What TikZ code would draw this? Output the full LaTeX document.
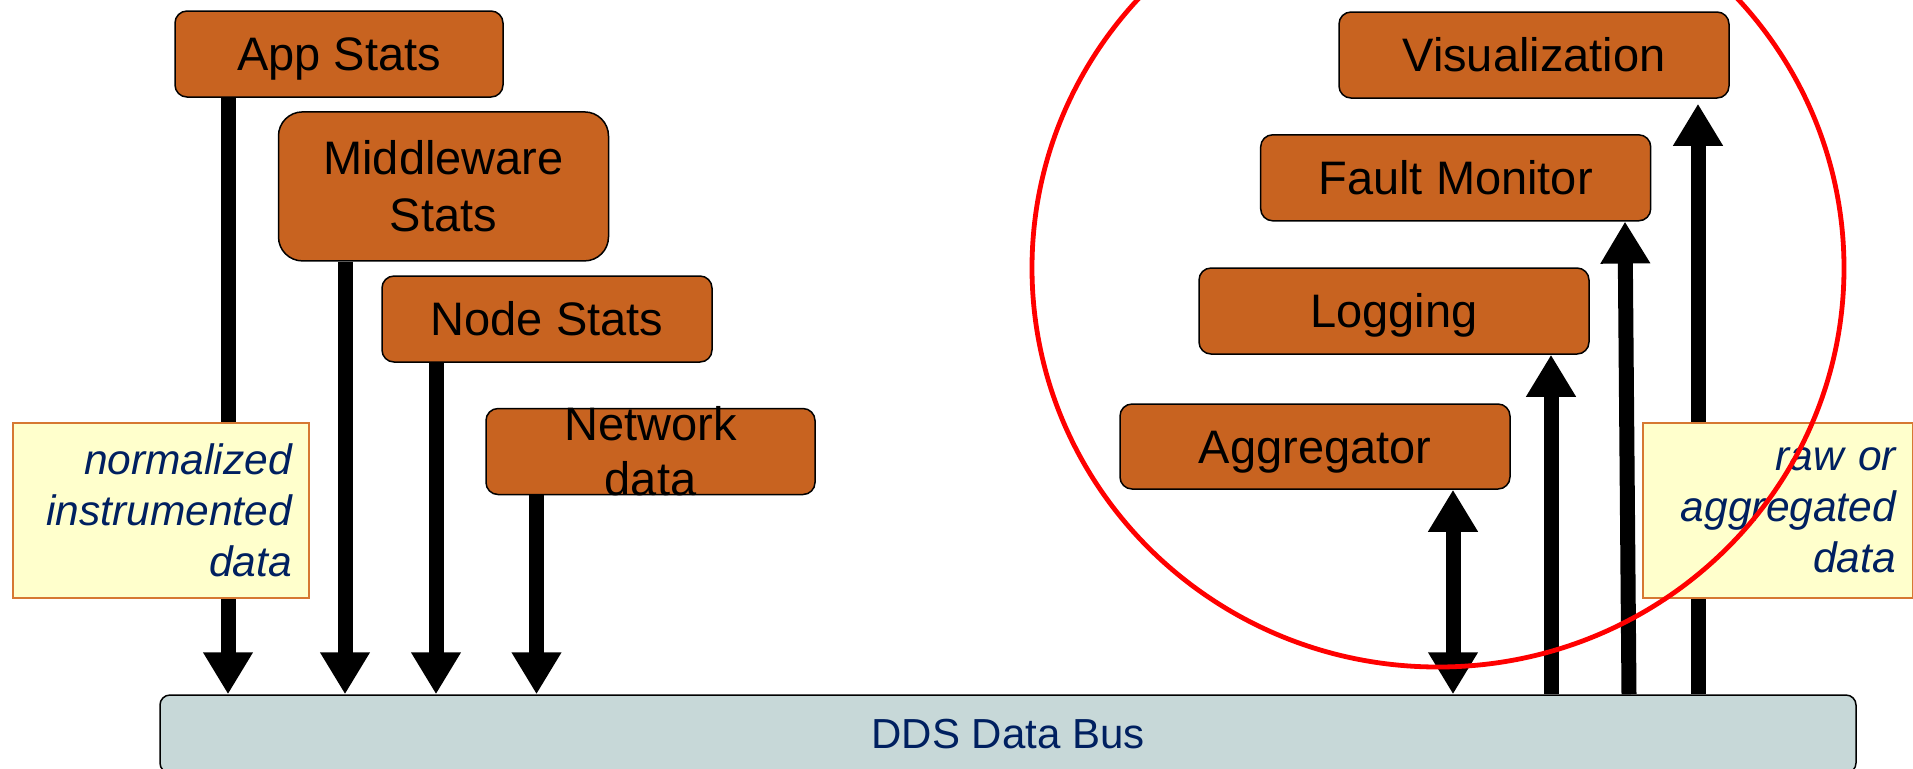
\documentclass[tikz,border=0pt]{standalone}
\usepackage{fontspec}
\setmainfont{Liberation Sans}
\usetikzlibrary{arrows.meta,calc}
\definecolor{boxorange}{RGB}{200,99,32}
\definecolor{busfill}{RGB}{199,216,216}
\definecolor{notefill}{RGB}{255,255,204}
\definecolor{noteborder}{RGB}{214,120,50}
\definecolor{navy}{RGB}{0,32,96}
\begin{document}
\begin{tikzpicture}[x=0.5pt,y=-0.5pt,
  box/.style={draw=black, line width=0.75pt, fill=boxorange, rounded corners=6pt,
    inner sep=0pt, align=center, font=\fontsize{23.5}{28.3}\selectfont,
    text height=20pt, text depth=3.2pt, minimum height=43pt},
  twolines/.style={text height=48.3pt, text depth=3.2pt},
  boxtext/.style={inner sep=0pt, align=center, font=\fontsize{23.5}{27.5}\selectfont,
    text height=47.5pt, text depth=3.2pt},
  note/.style={draw=noteborder, line width=0.9pt, fill=notefill, inner ysep=0pt,
    inner xsep=8.5pt, align=right, text=navy,
    font=\fontsize{21.25}{25.5}\selectfont\itshape, minimum height=87.5pt},
  bus/.style={draw=black, line width=0.75pt, fill=busfill, rounded corners=5pt,
    minimum width=848pt, minimum height=39pt, text=navy, inner sep=0pt,
    text height=17pt, text depth=2.2pt,
    font=\fontsize{21}{25}\selectfont},
  arr/.style={line width=7.5pt, -{Triangle[length=21pt,width=23.5pt]}},
  dblarr/.style={line width=7.5pt, {Triangle[length=21pt,width=23.5pt]}-{Triangle[length=21pt,width=23.5pt]}},
  ring/.style={draw=red, line width=2.4pt}
]
\useasboundingbox (0,0) rectangle (1913,768);

% data bus
\node[bus] (bus) at (1008,734) {DDS Data Bus};

% left boxes
\node[box, minimum width=164pt] (app) at (339,54) {App Stats};
\node[box, twolines, minimum width=165pt, minimum height=74.5pt, rounded corners=12pt] (mid) at (443.5,186.4) {Middleware\\Stats};
\node[box, minimum width=165pt] (nod) at (547,319) {Node Stats};
\node[box, minimum width=164.5pt] (net) at (650.5,451.5) {};
\node[boxtext] (netlabel) at (net.center) {Network\\data};

% right boxes
\node[box, minimum width=195pt] (viz) at (1534,55) {Visualization};
\node[box, minimum width=195pt] (flt) at (1455.7,177.8) {Fault Monitor};
\node[box, minimum width=195pt] (lgg) at (1394,311) {Logging};
\node[box, minimum width=195pt, minimum height=42.5pt] (agg) at (1315,446.5) {Aggregator};

% arrow x positions
\coordinate (xa) at (228,0);
\coordinate (xm) at (345,0);
\coordinate (xn) at (436,0);
\coordinate (xw) at (536.5,0);
\coordinate (xg) at (1453,0);
\coordinate (xl) at (1551,0);
\coordinate (xf1) at (1629,0);
\coordinate (xf2) at (1625,0);
\coordinate (xv) at (1698,0);

\draw[arr] (xa |- app.south) -- (xa |- bus.north);
\draw[arr] (xm |- mid.south) -- (xm |- bus.north);
\draw[arr] (xn |- nod.south) -- (xn |- bus.north);
\draw[arr] (xw |- net.south) -- (xw |- bus.north);
\draw[dblarr] (xg |- bus.north) -- (xg |- agg.south);
\draw[arr] (xl |- bus.north) -- (xl |- lgg.south);
\draw[arr] (xf1 |- bus.north) -- (xf2 |- flt.south);
\draw[arr, shorten >=2.5pt] (xv |- bus.north) -- (xv |- viz.south);

% notes
\node[note, text width=131pt] (lnote) at (160.9,510.5) {normalized\\instrumented\\data};
\node[note, text width=118pt] (rnote) at (1778,510.5) {raw or\\aggregated\\data};

% red circle
\draw[ring] (1438,268) ellipse [x radius=406, y radius=399];
\end{tikzpicture}
\end{document}
